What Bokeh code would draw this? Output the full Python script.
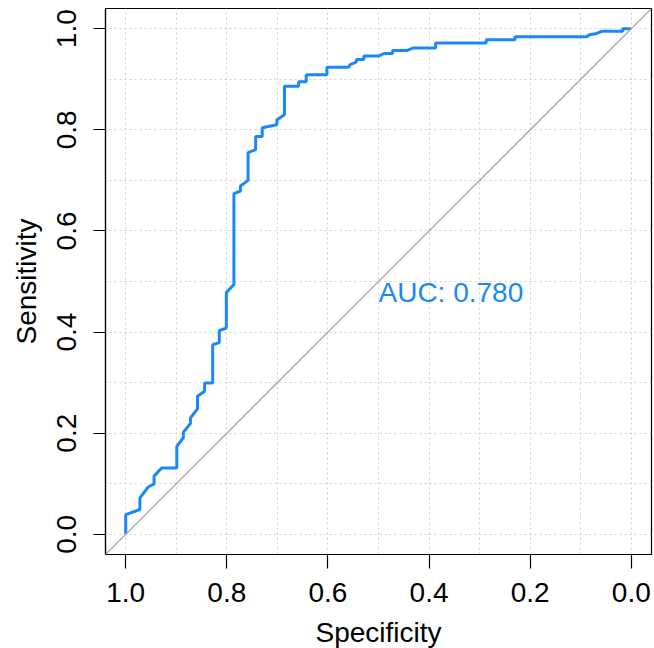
from bokeh.plotting import figure
from bokeh.models import Range1d, FixedTicker, Slope, PrintfTickFormatter, Label
from bokeh.embed import file_html
from bokeh.resources import INLINE

# ROC curve vertices (specificity, sensitivity)
specificity = [1.000, 1.000, 0.972, 0.972, 0.955, 0.944, 0.944, 0.929, 0.899, 0.899,
               0.886, 0.886, 0.872, 0.872, 0.858, 0.858, 0.844, 0.844, 0.828, 0.828,
               0.815, 0.815, 0.801, 0.801, 0.786, 0.786, 0.773, 0.773, 0.758, 0.758,
               0.743, 0.743, 0.730, 0.730, 0.701, 0.701, 0.686, 0.686, 0.658, 0.658,
               0.643, 0.643, 0.602, 0.602, 0.559, 0.556, 0.544, 0.544, 0.529, 0.529,
               0.500, 0.489, 0.472, 0.472, 0.443, 0.431, 0.387, 0.387, 0.287, 0.287,
               0.230, 0.230, 0.088, 0.083, 0.071, 0.058, 0.017, 0.017, 0.000]
sensitivity = [0.000, 0.039, 0.049, 0.072, 0.094, 0.099, 0.115, 0.131, 0.131, 0.174,
               0.191, 0.202, 0.219, 0.230, 0.248, 0.273, 0.283, 0.299, 0.299, 0.375,
               0.379, 0.403, 0.408, 0.478, 0.494, 0.674, 0.679, 0.689, 0.700, 0.755,
               0.761, 0.787, 0.787, 0.804, 0.810, 0.820, 0.830, 0.886, 0.886, 0.895,
               0.895, 0.909, 0.909, 0.924, 0.924, 0.929, 0.934, 0.939, 0.939, 0.946,
               0.946, 0.951, 0.951, 0.957, 0.957, 0.962, 0.962, 0.972, 0.972, 0.978,
               0.978, 0.984, 0.984, 0.988, 0.990, 0.995, 0.995, 1.000, 1.000]

axis_ticks = [0.0, 0.2, 0.4, 0.6, 0.8, 1.0]
grid_ticks = [0.0, 0.1, 0.2, 0.3, 0.4, 0.5, 0.6, 0.7, 0.8, 0.9, 1.0]
auc_text = "AUC: 0.780"
auc_x, auc_y = 0.5, 0.5

BLUE = "#1a88f8"
FONT = "Liberation Sans"
FS = "28px"

p = figure(frame_width=546, frame_height=546,
           min_border_left=105, min_border_right=3, min_border_top=8, min_border_bottom=94,
           x_range=Range1d(1.04, -0.04), y_range=Range1d(-0.04, 1.04),
           output_backend="svg", toolbar_location=None,
           x_axis_label="Specificity", y_axis_label="Sensitivity")

p.background_fill_color = "white"
p.border_fill_color = "white"
p.outline_line_color = "black"
p.outline_line_width = 1.2

for g in (p.xgrid, p.ygrid):
    g.ticker = FixedTicker(ticks=grid_ticks)
    g.grid_line_color = "#d0d0d0"
    g.grid_line_dash = "2 3"
    g.grid_line_width = 1

for ax in (p.xaxis, p.yaxis):
    ax.ticker = FixedTicker(ticks=axis_ticks)
    ax.formatter = PrintfTickFormatter(format="%.1f")
    ax.axis_line_color = "black"
    ax.axis_line_width = 1.2
    ax.major_tick_line_color = "black"
    ax.major_tick_line_width = 1.2
    ax.major_tick_in = 0
    ax.minor_tick_line_color = None
    ax.major_label_text_font = FONT
    ax.major_label_text_font_size = FS
    ax.major_label_text_color = "black"
    ax.axis_label_text_font = FONT
    ax.axis_label_text_font_size = FS
    ax.axis_label_text_font_style = "normal"
    ax.axis_label_text_color = "black"

p.xaxis.major_tick_out = 14
p.yaxis.major_tick_out = 12
p.xaxis.major_label_standoff = 14
p.yaxis.major_label_standoff = 17
p.yaxis.major_label_orientation = "vertical"
p.xaxis.axis_label_standoff = 12
p.yaxis.axis_label_standoff = 13

p.add_layout(Slope(gradient=-1, y_intercept=1, line_color="#a8a8a8", line_width=1.3))

p.line(specificity, sensitivity, line_color=BLUE, line_width=3)

p.add_layout(Label(x=auc_x, y=auc_y, text=auc_text, text_align="left", text_baseline="top",
                   y_offset=5, text_font=FONT, text_font_size=FS, text_color=BLUE))

open("out.html", "w").write(file_html(p, INLINE))
